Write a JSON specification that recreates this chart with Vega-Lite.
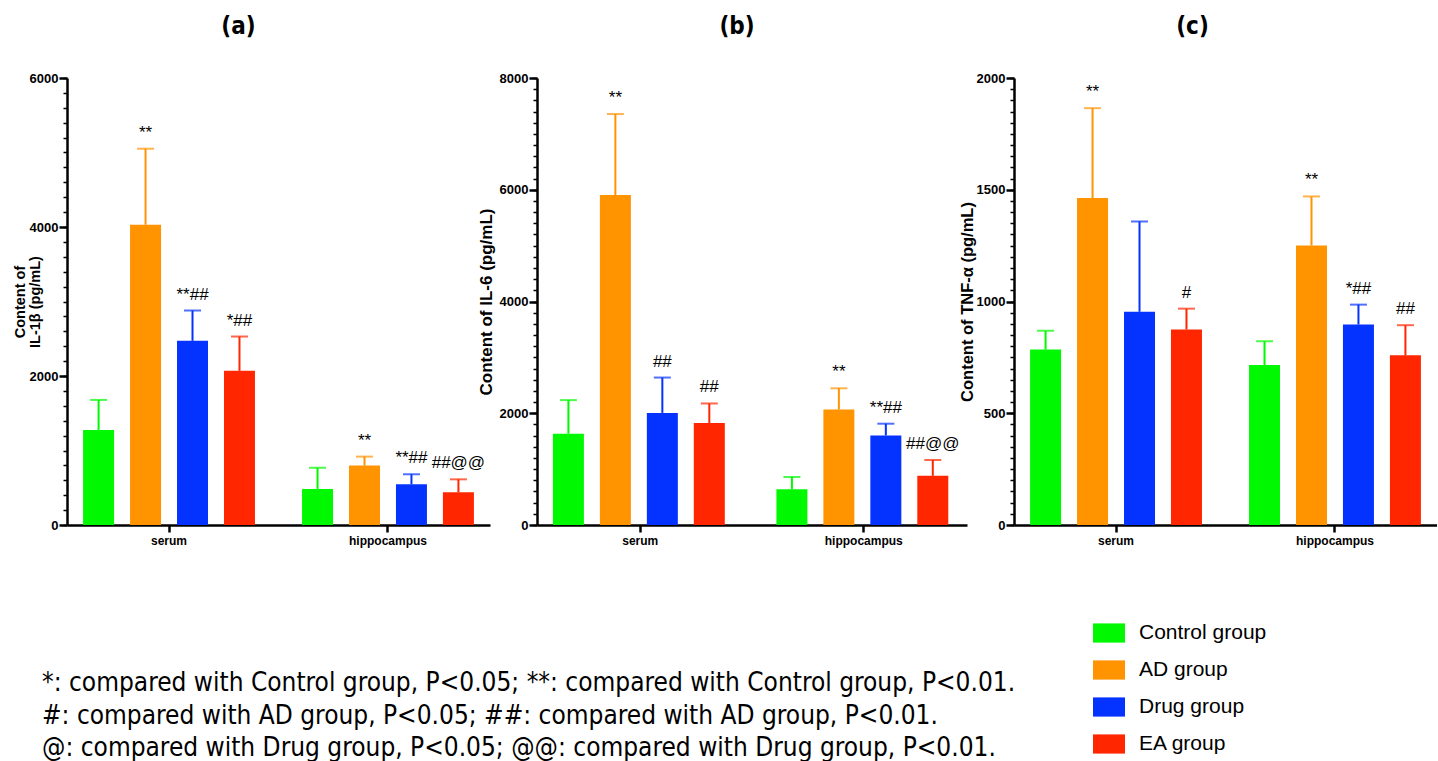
{
  "$schema": "https://vega.github.io/schema/vega-lite/v6.json",
  "padding": {"left": 12, "top": 15, "right": 0, "bottom": 0},
  "data": {"values": [
    {"panel": "a", "tissue": "serum", "group": "Control group", "mean": 1276, "err": 1679, "label": ""},
    {"panel": "a", "tissue": "serum", "group": "AD group", "mean": 4030, "err": 5051, "label": "**"},
    {"panel": "a", "tissue": "serum", "group": "Drug  group", "mean": 2472, "err": 2879, "label": "**##"},
    {"panel": "a", "tissue": "serum", "group": "EA group", "mean": 2069, "err": 2530, "label": "*##"},
    {"panel": "a", "tissue": "hippocampus", "group": "Control group", "mean": 484, "err": 770, "label": ""},
    {"panel": "a", "tissue": "hippocampus", "group": "AD group", "mean": 797, "err": 918, "label": "**"},
    {"panel": "a", "tissue": "hippocampus", "group": "Drug  group", "mean": 546, "err": 681, "label": "**##"},
    {"panel": "a", "tissue": "hippocampus", "group": "EA group", "mean": 439, "err": 613, "label": "##@@"},
    {"panel": "b", "tissue": "serum", "group": "Control group", "mean": 1633, "err": 2235, "label": ""},
    {"panel": "b", "tissue": "serum", "group": "AD group", "mean": 5904, "err": 7355, "label": "**"},
    {"panel": "b", "tissue": "serum", "group": "Drug  group", "mean": 2006, "err": 2639, "label": "##"},
    {"panel": "b", "tissue": "serum", "group": "EA group", "mean": 1825, "err": 2175, "label": "##"},
    {"panel": "b", "tissue": "hippocampus", "group": "Control group", "mean": 639, "err": 861, "label": ""},
    {"panel": "b", "tissue": "hippocampus", "group": "AD group", "mean": 2066, "err": 2446, "label": "**"},
    {"panel": "b", "tissue": "hippocampus", "group": "Drug  group", "mean": 1602, "err": 1813, "label": "**##"},
    {"panel": "b", "tissue": "hippocampus", "group": "EA group", "mean": 880, "err": 1163, "label": "##@@"},
    {"panel": "c", "tissue": "serum", "group": "Control group", "mean": 785, "err": 869, "label": ""},
    {"panel": "c", "tissue": "serum", "group": "AD group", "mean": 1463, "err": 1865, "label": "**"},
    {"panel": "c", "tissue": "serum", "group": "Drug  group", "mean": 954, "err": 1358, "label": ""},
    {"panel": "c", "tissue": "serum", "group": "EA group", "mean": 875, "err": 968, "label": "#"},
    {"panel": "c", "tissue": "hippocampus", "group": "Control group", "mean": 716, "err": 822, "label": ""},
    {"panel": "c", "tissue": "hippocampus", "group": "AD group", "mean": 1251, "err": 1470, "label": "**"},
    {"panel": "c", "tissue": "hippocampus", "group": "Drug  group", "mean": 897, "err": 986, "label": "*##"},
    {"panel": "c", "tissue": "hippocampus", "group": "EA group", "mean": 759, "err": 894, "label": "##"}
  ]},
  "bounds": "flush",
  "spacing": 47,
  "title": {
    "text": ["*: compared with Control group, P<0.05; **: compared with Control group, P<0.01.", "#: compared with AD group, P<0.05; ##: compared with AD group, P<0.01.", "@: compared with Drug group, P<0.05; @@: compared with Drug group, P<0.01."],
    "orient": "bottom", "anchor": "start", "frame": "group",
    "font": "DejaVu Sans Condensed, Liberation Sans", "fontSize": 26, "fontWeight": "normal", "lineHeight": 32.5,
    "color": "black", "offset": -84, "dx": -25
  },
  "hconcat": [
    {
      "width": 423, "height": 447,
      "title": {"text": "(a)", "dx": -40},
      "transform": [{"filter": "datum.panel === 'a'"}],
      "encoding": {
        "x": {"field": "tissue", "type": "nominal", "sort": ["serum", "hippocampus"], "scale": {"paddingInner": 0.142, "paddingOuter": 0.037}, "axis": {"title": null}},
        "xOffset": {"field": "group", "type": "nominal", "sort": ["Control group", "AD group", "Drug  group", "EA group"], "scale": {"paddingInner": 0.34, "paddingOuter": 0.17}},
        "color": {"field": "group", "type": "nominal", "sort": ["Control group", "AD group", "Drug  group", "EA group"], "scale": {"domain": ["Control group", "AD group", "Drug  group", "EA group"], "range": ["#00F900", "#FF9300", "#0433FF", "#FF2600"]},
          "legend": {"title": null, "orient": "none", "legendX": 1026, "legendY": 539, "symbolType": "M-1,-0.6H1V0.6H-1Z", "symbolSize": 1024, "symbolStrokeWidth": 0, "symbolOpacity": 1, "labelFontSize": 21, "labelFont": "Liberation Sans", "labelOffset": 14, "rowPadding": 11, "labelColor": "black", "labelLimit": 400}}
      },
      "resolve": {"axis": {"y": "independent"}},
      "layer": [
        {"mark": "bar", "encoding": {"y": {"field": "mean", "type": "quantitative", "scale": {"domain": [0, 6000], "nice": false}, "axis": {"orient": "left", "values": [0, 2000, 4000, 6000], "format": "d", "title": ["Content of", "IL-1β (pg/mL)"], "titleFontSize": 14.5, "titlePadding": -13, "titleLineHeight": 15}}}},
        {"mark": {"type": "rule", "strokeWidth": 2}, "encoding": {"y": {"field": "mean", "type": "quantitative", "axis": {"orient": "left", "values": [0,200,400,600,800,1000,1200,1400,1600,1800,2000,2200,2400,2600,2800,3000,3200,3400,3600,3800,4000,4200,4400,4600,4800,5000,5200,5400,5600,5800,6000], "labels": false, "domain": false, "tickSize": 4, "tickWidth": 1.5, "title": null}}, "y2": {"field": "err"}}},
        {"mark": {"type": "tick", "thickness": 2, "size": 17}, "encoding": {"y": {"field": "err", "type": "quantitative", "axis": null}}},
        {"mark": {"type": "text", "dy": -16, "fontSize": 17, "font": "Liberation Sans"}, "encoding": {"y": {"field": "err", "type": "quantitative", "axis": null}, "text": {"field": "label"}, "color": {"value": "black"}}}
      ]
    },
    {
      "width": 430, "height": 447,
      "title": {"text": "(b)", "dx": -15},
      "transform": [{"filter": "datum.panel === 'b'"}],
      "encoding": {
        "x": {"field": "tissue", "type": "nominal", "sort": ["serum", "hippocampus"], "scale": {"paddingInner": 0.147, "paddingOuter": 0.0355}, "axis": {"title": null}},
        "xOffset": {"field": "group", "type": "nominal", "sort": ["Control group", "AD group", "Drug  group", "EA group"], "scale": {"paddingInner": 0.333, "paddingOuter": 0.167}},
        "color": {"field": "group", "type": "nominal", "sort": ["Control group", "AD group", "Drug  group", "EA group"], "scale": {"domain": ["Control group", "AD group", "Drug  group", "EA group"], "range": ["#00F900", "#FF9300", "#0433FF", "#FF2600"]},
          "legend": {"title": null, "orient": "none", "legendX": 1026, "legendY": 539, "symbolType": "M-1,-0.6H1V0.6H-1Z", "symbolSize": 1024, "symbolStrokeWidth": 0, "symbolOpacity": 1, "labelFontSize": 21, "labelFont": "Liberation Sans", "labelOffset": 14, "rowPadding": 11, "labelColor": "black", "labelLimit": 400}}
      },
      "resolve": {"axis": {"y": "independent"}},
      "layer": [
        {"mark": "bar", "encoding": {"y": {"field": "mean", "type": "quantitative", "scale": {"domain": [0, 8000], "nice": false}, "axis": {"orient": "left", "values": [0, 2000, 4000, 6000, 8000], "format": "d", "title": "Content of IL-6 (pg/mL)", "titleFontSize": 17, "titlePadding": 4}}}},
        {"mark": {"type": "rule", "strokeWidth": 2}, "encoding": {"y": {"field": "mean", "type": "quantitative", "axis": {"orient": "left", "values": [0,200,400,600,800,1000,1200,1400,1600,1800,2000,2200,2400,2600,2800,3000,3200,3400,3600,3800,4000,4200,4400,4600,4800,5000,5200,5400,5600,5800,6000,6200,6400,6600,6800,7000,7200,7400,7600,7800,8000], "labels": false, "domain": false, "tickSize": 4, "tickWidth": 1.5, "title": null}}, "y2": {"field": "err"}}},
        {"mark": {"type": "tick", "thickness": 2, "size": 17}, "encoding": {"y": {"field": "err", "type": "quantitative", "axis": null}}},
        {"mark": {"type": "text", "dy": -16, "fontSize": 17, "font": "Liberation Sans"}, "encoding": {"y": {"field": "err", "type": "quantitative", "axis": null}, "text": {"field": "label"}, "color": {"value": "black"}}}
      ]
    },
    {
      "width": 423, "height": 447,
      "title": {"text": "(c)", "dx": -33},
      "transform": [{"filter": "datum.panel === 'c'"}],
      "encoding": {
        "x": {"field": "tissue", "type": "nominal", "sort": ["serum", "hippocampus"], "scale": {"paddingInner": 0.142, "paddingOuter": 0.037}, "axis": {"title": null}},
        "xOffset": {"field": "group", "type": "nominal", "sort": ["Control group", "AD group", "Drug  group", "EA group"], "scale": {"paddingInner": 0.34, "paddingOuter": 0.17}},
        "color": {"field": "group", "type": "nominal", "sort": ["Control group", "AD group", "Drug  group", "EA group"], "scale": {"domain": ["Control group", "AD group", "Drug  group", "EA group"], "range": ["#00F900", "#FF9300", "#0433FF", "#FF2600"]},
          "legend": {"title": null, "orient": "none", "legendX": 1026, "legendY": 539, "symbolType": "M-1,-0.6H1V0.6H-1Z", "symbolSize": 1024, "symbolStrokeWidth": 0, "symbolOpacity": 1, "labelFontSize": 21, "labelFont": "Liberation Sans", "labelOffset": 14, "rowPadding": 11, "labelColor": "black", "labelLimit": 400}}
      },
      "resolve": {"axis": {"y": "independent"}},
      "layer": [
        {"mark": "bar", "encoding": {"y": {"field": "mean", "type": "quantitative", "scale": {"domain": [0, 2000], "nice": false}, "axis": {"orient": "left", "values": [0, 500, 1000, 1500, 2000], "format": "d", "title": "Content of TNF-α  (pg/mL)", "titleFontSize": 16.5, "titlePadding": 1}}}},
        {"mark": {"type": "rule", "strokeWidth": 2}, "encoding": {"y": {"field": "mean", "type": "quantitative", "axis": {"orient": "left", "values": [0,50,100,150,200,250,300,350,400,450,500,550,600,650,700,750,800,850,900,950,1000,1050,1100,1150,1200,1250,1300,1350,1400,1450,1500,1550,1600,1650,1700,1750,1800,1850,1900,1950,2000], "labels": false, "domain": false, "tickSize": 4, "tickWidth": 1.5, "title": null}}, "y2": {"field": "err"}}},
        {"mark": {"type": "tick", "thickness": 2, "size": 17}, "encoding": {"y": {"field": "err", "type": "quantitative", "axis": null}}},
        {"mark": {"type": "text", "dy": -16, "fontSize": 17, "font": "Liberation Sans"}, "encoding": {"y": {"field": "err", "type": "quantitative", "axis": null}, "text": {"field": "label"}, "color": {"value": "black"}}}
      ]
    }
  ],
  "config": {
    "font": "Liberation Sans",
    "view": {"stroke": null},
    "title": {"font": "DejaVu Sans Condensed, Liberation Sans", "fontSize": 24, "fontWeight": "bold", "color": "black", "offset": 33, "anchor": "middle"},
    "axis": {
      "grid": false, "domainColor": "black", "tickColor": "black", "labelColor": "black", "titleColor": "black",
      "domainWidth": 2.5, "tickWidth": 2.5, "tickSize": 8,
      "labelFont": "Liberation Sans", "labelFontWeight": "bold", "labelFontSize": 13, "labelPadding": 1,
      "titleFont": "Liberation Sans", "titleFontWeight": "bold"
    },
    "axisX": {"labelAngle": 0, "tickSize": 7, "labelPadding": 3, "labelFontSize": 12}
  }
}
